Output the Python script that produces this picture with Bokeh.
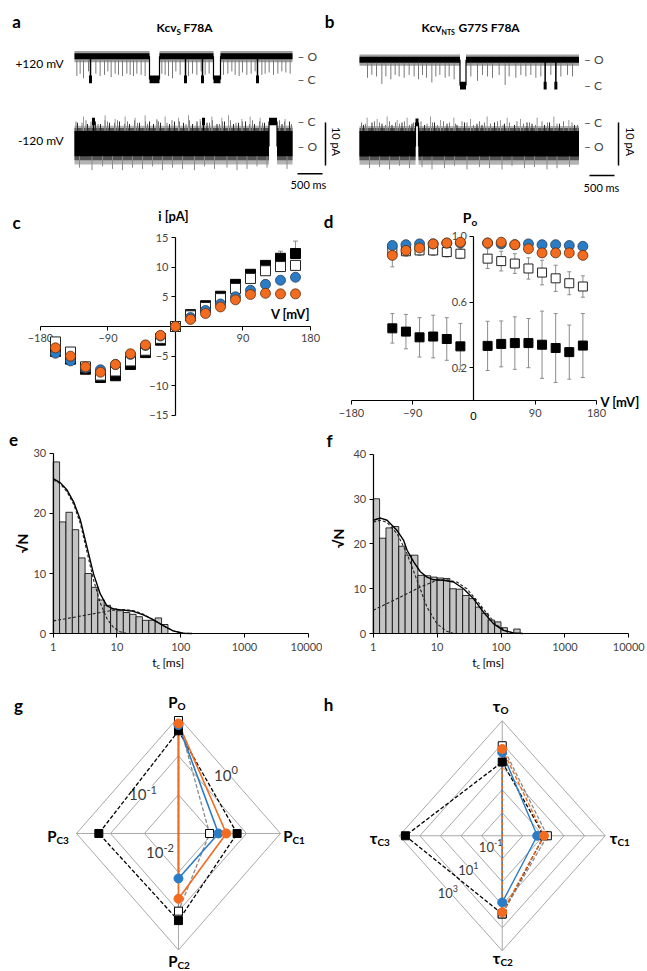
import math
from bokeh.plotting import figure
from bokeh.layouts import column, row
from bokeh.models import (Label, Range1d, FixedTicker, LinearAxis, LogAxis,
                          ColumnDataSource, Whisker, TeeHead,
                          PrintfTickFormatter, NumeralTickFormatter)
from bokeh.embed import file_html
from bokeh.resources import INLINE

FONT = "Lato"
BLUE = "#2b7cc6"
ORANGE = "#f26b1f"
GRID = "#a8a8a8"
ERR = "#8c8c8c"

# ===================== DATA =====================
# --- a / b : single-channel traces (ms, pA) ---
TRACE_DUR_A = 4360
TRACE_DUR_B = 4390
A_POS_AMP = 5.4
A_NEG_AMP = -5.8
B_POS_AMP = 6.0
B_NEG_AMP = -5.6
A_POS_LONG = [(1500, 1700), (2780, 2920)]
A_POS_FULL = [320, 2220, 2560, 3660]
A_POS_SPIKE_T = [47, 113, 180, 280, 427, 513, 600, 667, 733, 813, 880, 960, 1047, 1113, 1180, 1247,
                 1333, 1413, 1747, 1813, 1880, 1960, 2027, 2113, 2280, 2360, 2447, 2533, 2613, 2693,
                 2980, 3067, 3147, 3213, 3293, 3360, 3447, 3533, 3613, 3747, 3813, 3893, 3980, 4067,
                 4147, 4227, 4313]
A_POS_SPIKE_D = [0.85, 0.75, 0.95, 0.65, 0.75, 0.85, 0.8, 0.65, 0.9, 0.75, 0.8, 0.85, 0.75, 0.8, 0.85,
                 0.75, 0.8, 0.85, 0.75, 0.8, 0.85, 0.95, 0.65, 0.8, 0.85, 0.75, 0.8, 0.65, 0.8, 0.75,
                 0.8, 0.75, 0.65, 0.8, 0.85, 0.7, 0.8, 0.75, 0.65, 0.8, 0.75, 0.7, 0.8, 0.75, 0.65,
                 0.7, 0.75]
A_NEG_LONG = [(3890, 4050)]
A_NEG_FULL = [380, 2580]
A_NEG_SPIKE_T = [180, 613, 813, 1013, 1213, 1413, 1647, 1813, 2080, 2280, 2513, 2747, 2947, 3080,
                 3347, 3513, 3713, 4213]
A_NEG_SPIKE_D = [1.2, 1.25, 1.1, 1.2, 1.15, 1.25, 1.1, 1.2, 1.15, 1.25, 1.1, 1.2, 1.15, 1.25, 1.1,
                 1.2, 1.15, 1.1]
A_NEG_DARK_T = [60, 260, 420, 520, 700, 900, 1100, 1300, 1500, 1580, 1720, 1900, 2000, 2180, 2360,
                2450, 2650, 2850, 3000, 3180, 3280, 3420, 3600, 3800, 4150, 4300]
A_NEG_DARK_D = [0.95, 0.9, 1.0, 0.9, 0.95, 1.0, 0.9, 0.95, 1.0, 0.9, 0.95, 0.9, 1.0, 0.95, 0.9,
                1.0, 0.95, 0.9, 1.0, 0.9, 0.95, 1.0, 0.9, 0.95, 0.9, 1.0]
A_NEG_MID_T = [30, 150, 230, 330, 470, 610, 660, 800, 860, 1000, 1060, 1200, 1260, 1420, 1460, 1650,
               1680, 1850, 1950, 2100, 2230, 2300, 2520, 2700, 2760, 2900, 2960, 3120, 3230, 3360,
               3500, 3560, 3700, 3760, 4100, 4200, 4340]
A_NEG_LOW_T = [100, 350, 560, 760, 960, 1160, 1360, 1560, 1760, 1960, 2160, 2400, 2600, 2800, 3050,
               3250, 3450, 3650, 3850, 4250]
A_NEG_LOW_D = [-0.85, -0.95, -0.8, -0.9, -0.95, -0.85, -0.9, -0.8, -0.95, -0.85, -0.9, -0.95, -0.8,
               -0.9, -0.85, -0.95, -0.9, -0.8, -0.85, -0.9]
B_POS_LONG = [(2010, 2130)]
B_POS_FULL = [3713, 3927]
B_POS_SPIKE_T = [160, 247, 340, 447, 527, 627, 713, 793, 893, 993, 1093, 1180, 1260, 1340, 1447, 1527,
                 1607, 1713, 1793, 1893, 2227, 2360, 2460, 2560, 2660, 2793, 2913, 2993, 3127, 3227,
                 3327, 3427, 3527, 3627, 3827, 4027, 4160, 4260]
B_POS_SPIKE_D = [0.7, 0.59, 0.65, 0.94, 0.65, 0.76, 0.59, 0.65, 0.7, 0.59, 0.65, 0.76, 0.59, 0.7, 0.88,
                 0.65, 0.59, 0.7, 0.65, 0.76, 0.65, 0.82, 0.59, 0.65, 0.7, 0.59, 0.98, 0.65, 0.7, 0.59,
                 0.65, 0.59, 0.7, 0.65, 0.59, 0.65, 0.59, 0.65]
B_NEG_LONG = [(1120, 1180)]
B_NEG_FULL = []
B_NEG_SPIKE_T = [153, 353, 553, 753, 953, 1420, 1620, 1887, 2220, 2553, 2820, 2953, 3220, 3553, 3887, 4187]
B_NEG_SPIKE_D = [1.2, 1.15, 1.25, 1.1, 1.2, 1.25, 1.1, 1.2, 1.15, 1.25, 1.1, 1.2, 1.15, 1.2, 1.25, 1.1]
B_NEG_DARK_T = [80, 250, 450, 650, 850, 1050, 1300, 1500, 1750, 1950, 2100, 2350, 2450, 2700, 2900,
                3100, 3350, 3450, 3700, 3800, 4000, 4300]
B_NEG_DARK_D = [0.9, 1.0, 0.95, 0.9, 1.0, 0.95, 0.9, 1.0, 0.95, 0.9, 1.0, 0.95, 0.9, 1.0, 0.95, 0.9,
                1.0, 0.95, 0.9, 1.0, 0.95, 0.9]
B_NEG_MID_T = [40, 120, 300, 400, 520, 600, 720, 800, 900, 1000, 1080, 1230, 1350, 1460, 1560, 1680,
               1800, 1920, 2050, 2150, 2280, 2400, 2500, 2620, 2760, 2870, 3000, 3150, 3280, 3400,
               3520, 3650, 3760, 3950, 4080, 4250, 4360]
B_NEG_LOW_T = [200, 400, 600, 800, 1000, 1250, 1450, 1700, 1900, 2150, 2400, 2600, 2850, 3050, 3300,
               3500, 3750, 3950, 4200]
B_NEG_LOW_D = [-0.9, -0.85, -0.95, -0.8, -0.9, -0.85, -0.95, -0.9, -0.8, -0.95, -0.85, -0.9, -0.95,
               -0.8, -0.9, -0.85, -0.95, -0.9, -0.85]
NEG_MID_D = [1.0, 0.95, 1.05, 1.0, 0.9, 1.05, 1.0, 0.95, 1.05, 0.9, 1.0, 1.05, 0.95, 1.0, 0.9, 1.05,
             1.0, 0.95, 1.05, 1.0, 0.9, 1.05, 1.0, 0.95, 1.05, 0.9, 1.0, 1.05, 0.95, 1.0, 0.9, 1.05,
             1.0, 0.95, 1.05, 1.0, 0.9]
POS_BANDS = [((-1.4, 1.2), "#a0a0a0"), ((-0.7, 0.7), "black")]
NEG_BANDS = [((-4.2, 4.8), "#b4b4b4"), ((-3.2, 4.3), "#555555"), ((-2.3, 3.6), "black")]
SCALE_T = 500    # ms
SCALE_I = 10     # pA

# --- c : I/V ---
IV_V = [-160, -140, -120, -100, -80, -60, -40, -20, 0, 20, 40, 60, 80, 100, 120, 140, 160]
IV_BLACK = [-4.2, -5.5, -7.2, -8.6, -8.3, -6.4, -4.4, -2.3, 0, 2.0, 3.5, 5.1, 7.1, 8.8, 10.3, 11.5, 12.3]
IV_BLACK_ERR = [0.3, 0.3, 0.3, 0.3, 0.3, 0.3, 0.3, 0.2, 0, 0.2, 0.3, 0.3, 0.4, 0.4, 0.5, 1.2, 2.1]
IV_OPEN = [-2.6, -4.3, -6.8, -8.2, -7.5, -5.8, -4.0, -2.0, 0, 1.8, 3.2, 4.7, 6.4, 8.1, 9.4, 10.1, 10.3]
IV_BLUE = [-4.5, -5.8, -7.0, -7.3, -6.4, -4.7, -3.2, -1.6, 0, 1.5, 2.7, 3.8, 5.0, 6.1, 7.1, 7.8, 8.3]
IV_ORANGE = [-3.6, -5.0, -6.8, -7.7, -6.4, -4.6, -3.1, -1.5, 0, 1.2, 2.2, 3.3, 4.5, 5.4, 5.6, 5.5, 5.5]

# --- d : open probability ---
PO_V = [-120, -100, -80, -60, -40, -20, 20, 40, 60, 80, 100, 120, 140, 160]
PO_BLACK = [0.44, 0.42, 0.385, 0.39, 0.375, 0.33, 0.333, 0.345, 0.35, 0.35, 0.34, 0.32, 0.295, 0.335]
PO_BLACK_ERR = [0.09, 0.105, 0.12, 0.13, 0.13, 0.14, 0.15, 0.14, 0.16, 0.15, 0.205, 0.21, 0.165, 0.195]
PO_OPEN = [0.915, 0.91, 0.915, 0.915, 0.905, 0.895, 0.865, 0.85, 0.835, 0.805, 0.78, 0.745, 0.715, 0.695]
PO_OPEN_ERR = [0.03, 0.03, 0.03, 0.03, 0.03, 0.03, 0.06, 0.06, 0.06, 0.065, 0.075, 0.08, 0.07, 0.065]
PO_BLUE = [0.945, 0.95, 0.955, 0.955, 0.96, 0.96, 0.96, 0.955, 0.95, 0.955, 0.95, 0.95, 0.945, 0.94]
PO_ORANGE = [0.885, 0.915, 0.93, 0.955, 0.96, 0.965, 0.96, 0.965, 0.95, 0.925, 0.9, 0.9, 0.9, 0.885]
PO_ORANGE_ERR = [0.07, 0.02, 0.02, 0.01, 0.01, 0.01, 0.01, 0.01, 0.01, 0.02, 0.02, 0.02, 0.02, 0.02]

# --- e / f : closed-time histograms (sqrt N, log bins 10/decade from 1 ms) ---
BINS_PER_DECADE = 10
E_HIST = [28.6, 18.6, 20.2, 17.3, 12.6, 10.0, 7.7, 5.6, 4.7, 4.1, 3.8, 3.5, 3.2, 2.8, 2.2, 2.2, 2.6, 1.5]
F_HIST = [30.1, 21.3, 23.6, 23.9, 19.5, 17.5, 17.5, 13.0, 12.9, 12.6, 12.4, 12.3, 10.0, 9.9, 8.5, 7.8,
          5.9, 4.5, 3.0, 2.6, 1.3, 0.0, 1.0]
E_SUM_T = [1.0, 1.3, 1.65, 2.1, 2.67, 3.39, 4.3, 5.47, 6.95, 8.82, 12.6, 18.1, 25.9, 37.0, 53.1, 76.0, 109, 150]
E_SUM = [25.8, 25.1, 23.9, 21.9, 18.9, 14.4, 9.9, 6.6, 4.6, 4.1, 3.9, 3.7, 3.1, 2.3, 1.3, 0.45, 0.05, 0.0]
E_FAST_T = [1.0, 1.3, 1.65, 2.1, 2.67, 3.39, 4.3, 5.47, 6.95, 8.82, 11.2, 14.0]
E_FAST = [25.6, 24.9, 23.6, 21.5, 18.3, 13.6, 8.9, 5.1, 2.5, 1.0, 0.3, 0.05]
E_SLOW_T = [1.0, 1.65, 2.67, 4.3, 6.95, 10.0, 14.0, 20.0, 26.0, 37.0, 53.0, 76.0, 109, 150]
E_SLOW = [2.1, 2.5, 2.9, 3.3, 3.7, 3.95, 4.0, 3.7, 3.2, 2.3, 1.3, 0.45, 0.05, 0.0]
F_SUM_T = [1.0, 1.3, 1.65, 2.37, 3.0, 3.39, 4.3, 5.47, 6.95, 8.82, 12.6, 18.1, 25.9, 37.0, 53.0, 76.0, 109, 155, 220]
F_SUM = [25.3, 25.8, 25.3, 23.0, 20.8, 18.6, 16.0, 13.8, 12.6, 12.0, 11.9, 11.5, 10.0, 7.8, 4.8, 2.2, 0.7, 0.15, 0.0]
F_FAST_T = [1.0, 1.3, 1.65, 2.37, 3.39, 4.85, 6.95, 9.9, 14.2, 18.1]
F_FAST = [24.9, 25.3, 24.8, 22.3, 17.8, 11.9, 5.9, 2.2, 0.5, 0.0]
F_SLOW_T = [1.0, 1.65, 3.0, 5.47, 9.9, 14.2, 20.4, 29.2, 41.8, 59.9, 85.8, 123, 175]
F_SLOW = [5.2, 6.7, 8.5, 10.4, 11.9, 12.0, 11.5, 10.0, 7.4, 4.5, 1.9, 0.5, 0.0]
HIST_TICKS = [1, 10, 100, 1000, 10000]

# --- g : state probabilities (order: O, C1, C2, C3) ---
G_MIN = 1e-3
G_RINGS = [1e-2, 1e-1, 1e0]
G_BLACK = [0.44, 0.053, 0.175, 0.22]
G_OPEN = [0.81, 0.0082, 0.10, None]
G_BLUE = [0.62, 0.015, 0.0144, None]
G_ORANGE = [0.68, 0.0255, 0.048, None]

# --- h : state lifetimes, ms (order: O, C1, C2, C3) ---
H_MIN = 1e-2
H_RINGS = [1e-1, 1e0, 1e1, 1e2, 1e3]
H_BLACK = [16, 1.07, 25, 500]
H_OPEN = [82, 1.55, 25, None]
H_BLUE = [42, 0.5, 7.9, None]
H_ORANGE = [59, 1.07, 21, None]


# ===================== HELPERS =====================
def mkfig(w, h, xr, yr, xtype="linear"):
    p = figure(width=w, height=h, x_range=Range1d(*xr), y_range=Range1d(*yr),
               x_axis_type=xtype, toolbar_location=None, output_backend="svg",
               x_axis_location=None, y_axis_location=None, title=None,
               min_border=0, outline_line_color=None)
    p.min_border_left = p.min_border_right = p.min_border_top = p.min_border_bottom = 0
    for g in p.grid:
        g.visible = False
    return p


def put(p, ox, ob, x, y, text, size=11, bold=False, align="center", baseline="middle",
        angle=0.0, color="black"):
    p.add_layout(Label(x=x - ox, y=ob - y, x_units="screen", y_units="screen", text=text,
                       text_font=FONT, text_font_size=f"{size}px",
                       text_font_style="bold" if bold else "normal",
                       text_align=align, text_baseline=baseline, angle=angle,
                       text_color=color))


def sub_put(p, ox, ob, x, y, main, sub, size, subsize, bold=True, dy=4):
    put(p, ox, ob, x, y, main, size, bold, align="right")
    put(p, ox, ob, x, y + dy, sub, subsize, bold, align="left")


def axis(p, side, loc, ticks, bounds, log=False, fmt=None, tick_in=0, tick_out=4,
         size="11px", standoff=3, level="guide"):
    A = LogAxis if log else LinearAxis
    ax = A(fixed_location=loc, ticker=FixedTicker(ticks=ticks), bounds=bounds,
           axis_line_color="black", axis_line_width=1.2,
           major_tick_line_color="black", major_tick_in=tick_in, major_tick_out=tick_out,
           minor_tick_line_color=None, major_label_text_font=FONT,
           major_label_text_font_size=size, major_label_standoff=standoff, level=level)
    if fmt is not None:
        ax.formatter = fmt
    p.add_layout(ax, side)


def draw_trace(p, t0, base, amp, dur, long_cl, full_cl, spike_sets, bands):
    O = base + amp
    C = base
    cuts = [0]
    for a, b in long_cl:
        cuts += [a, b]
    cuts.append(dur)
    L = [t0 + cuts[i] for i in range(0, len(cuts), 2)]
    R = [t0 + cuts[i + 1] for i in range(0, len(cuts), 2)]
    for (lo, hi), col in bands:
        p.quad(left=L, right=R, bottom=O + lo, top=O + hi, fill_color=col, line_color=None)
    core_lo, core_hi = bands[-1][0]
    for sp_t, sp_d, col in spike_sets:
        xs = [t0 + t for t in sp_t]
        ends = [O - d * amp for d in sp_d]
        starts = [O + (core_hi if e > O else core_lo) for e in ends]
        p.segment(x0=xs, y0=starts, x1=xs, y1=ends, line_color=col, line_width=1)
    if long_cl:
        p.quad(left=[t0 + a for a, b in long_cl], right=[t0 + b for a, b in long_cl],
               bottom=C - 0.9, top=C + 0.9, fill_color="black", line_color=None)
        ex = [t0 + v for iv in long_cl for v in iv]
        p.segment(x0=ex, y0=[O] * len(ex), x1=ex, y1=[C] * len(ex), line_color="black", line_width=1.2)
    if full_cl:
        ex = [t0 + t for t in full_cl]
        p.segment(x0=ex, y0=[O] * len(ex), x1=ex, y1=[C] * len(ex), line_color="black", line_width=1.5)
        p.quad(left=[x - 30 for x in ex], right=[x + 30 for x in ex], bottom=C - 0.9, top=C + 0.9,
               fill_color="black", line_color=None)


# ===================== ROW 1 : a, b =====================
# figure spans image x 0..645, y 0..195 ; 20 ms/px, 4.3 px/pA
pab = mkfig(645, 195, (-1480, 11420), (-26.98, 18.37))
A_T0, B_T0 = 0, 5700
A_POS_BASE, A_NEG_BASE = 0.0, -9.77
B_POS_BASE, B_NEG_BASE = -1.4, -10.0

draw_trace(pab, A_T0, A_POS_BASE, A_POS_AMP, TRACE_DUR_A, A_POS_LONG, A_POS_FULL,
           [(A_POS_SPIKE_T, A_POS_SPIKE_D, "#7a7a7a")], POS_BANDS)
draw_trace(pab, A_T0, A_NEG_BASE, A_NEG_AMP, TRACE_DUR_A, A_NEG_LONG, A_NEG_FULL,
           [(A_NEG_SPIKE_T, A_NEG_SPIKE_D, "#9a9a9a"), (A_NEG_MID_T, NEG_MID_D, "#7a7a7a"),
            (A_NEG_DARK_T, A_NEG_DARK_D, "#2a2a2a"), (A_NEG_LOW_T, A_NEG_LOW_D, "#8a8a8a")], NEG_BANDS)
draw_trace(pab, B_T0, B_POS_BASE, B_POS_AMP, TRACE_DUR_B, B_POS_LONG, B_POS_FULL,
           [(B_POS_SPIKE_T, B_POS_SPIKE_D, "#7a7a7a")], POS_BANDS)
draw_trace(pab, B_T0, B_NEG_BASE, B_NEG_AMP, TRACE_DUR_B, B_NEG_LONG, B_NEG_FULL,
           [(B_NEG_SPIKE_T, B_NEG_SPIKE_D, "#9a9a9a"), (B_NEG_MID_T, NEG_MID_D, "#7a7a7a"),
            (B_NEG_DARK_T, B_NEG_DARK_D, "#2a2a2a"), (B_NEG_LOW_T, B_NEG_LOW_D, "#8a8a8a")], NEG_BANDS)

# level marks "– O" / "– C"
for t0, dur, base, amp in [(A_T0, TRACE_DUR_A, A_POS_BASE, A_POS_AMP),
                           (A_T0, TRACE_DUR_A, A_NEG_BASE, A_NEG_AMP),
                           (B_T0, TRACE_DUR_B, B_POS_BASE, B_POS_AMP),
                           (B_T0, TRACE_DUR_B, B_NEG_BASE, B_NEG_AMP)]:
    for lvl, name in [(base + amp, "O"), (base, "C")]:
        pab.add_layout(Label(x=t0 + dur + 100, y=lvl, text="\u2013 " + name, text_font=FONT,
                             text_font_size="12px", text_align="left", text_baseline="middle"))

# scale bars
for tx, ty, vx, vy in [(4460, -21.9, 5020, -10.0), (10300, -22.3, 10880, -10.0)]:
    pab.segment(x0=[tx], y0=[ty], x1=[tx + SCALE_T], y1=[ty], line_color="black", line_width=1.5)
    pab.segment(x0=[vx], y0=[vy], x1=[vx], y1=[vy - SCALE_I], line_color="black", line_width=1.5)

OX, OB = 0, 195
put(pab, OX, OB, 16, 21, "a", 17, True)
put(pab, OX, OB, 329, 21, "b", 17, True)
put(pab, OX, OB, 176, 27, "Kcv", 12, True, align="right")
put(pab, OX, OB, 176, 31, "S", 8, True, align="left")
put(pab, OX, OB, 183, 27, "F78A", 12, True, align="left")
put(pab, OX, OB, 441, 27, "Kcv", 12, True, align="right")
put(pab, OX, OB, 441, 31, "NTS", 7, True, align="left")
put(pab, OX, OB, 458, 27, "G77S F78A", 12, True, align="left")
put(pab, OX, OB, 63, 63, "+120 mV", 12, align="right")
put(pab, OX, OB, 63, 140, "-120 mV", 12, align="right")
put(pab, OX, OB, 336, 141, "10 pA", 11, angle=-math.pi / 2)
put(pab, OX, OB, 630, 141, "10 pA", 11, angle=-math.pi / 2)
put(pab, OX, OB, 308, 184, "500 ms", 11)
put(pab, OX, OB, 601, 187, "500 ms", 11)

# ===================== ROW 2 : c, d =====================
pc = mkfig(322, 235, (-233.33, 196.0), (-17.53, 22.08))
axis(pc, "below", 0, [-180, -90, 90, 180], (-180, 180), level="underlay", standoff=4)
axis(pc, "left", 0, [-15, -10, -5, 5, 10, 15], (-15, 15), level="underlay")
cerr = ColumnDataSource(dict(x=IV_V, lo=IV_BLACK, hi=[b + e for b, e in zip(IV_BLACK, IV_BLACK_ERR)]))
pc.add_layout(Whisker(source=cerr, base="x", lower="lo", upper="hi", line_color=ERR,
                      upper_head=TeeHead(size=5, line_color=ERR), lower_head=None))
pc.scatter(IV_V, IV_BLACK, marker="square", size=10, fill_color="black", line_color="black")
pc.scatter(IV_V, IV_OPEN, marker="square", size=10, fill_color="white", line_color="#222222", line_width=1)
pc.scatter(IV_V, IV_BLUE, marker="circle", size=10, fill_color=BLUE, line_color="#2a3f55", line_width=0.8)
pc.scatter(IV_V, IV_ORANGE, marker="circle", size=10, fill_color=ORANGE, line_color="#5a3010", line_width=0.8)
OX, OB = 0, 430
put(pc, OX, OB, 16, 222, "c", 17, True)
put(pc, OX, OB, 173, 215, "i [pA]", 13, True)
put(pc, OX, OB, 290, 313, "V [mV]", 13, True)

pd = mkfig(323, 235, (-222.6, 252.0), (-0.183, 1.25))
axis(pd, "below", 0, [-180, -90, 90, 180], (-180, 180), level="underlay", standoff=5)
axis(pd, "left", 0, [0.2, 0.6, 1.0], (0, 1.0), fmt=PrintfTickFormatter(format="%.1f"), level="underlay")
for vals, errs in [(PO_BLACK, PO_BLACK_ERR), (PO_OPEN, PO_OPEN_ERR), (PO_ORANGE, PO_ORANGE_ERR)]:
    s = ColumnDataSource(dict(x=PO_V, lo=[v - e for v, e in zip(vals, errs)],
                              hi=[v + e for v, e in zip(vals, errs)]))
    pd.add_layout(Whisker(source=s, base="x", lower="lo", upper="hi", line_color=ERR,
                          upper_head=TeeHead(size=4, line_color=ERR),
                          lower_head=TeeHead(size=4, line_color=ERR)))
pd.scatter(PO_V, PO_BLACK, marker="square", size=9, fill_color="black", line_color="black")
pd.scatter(PO_V, PO_OPEN, marker="square", size=9, fill_color="white", line_color="#222222", line_width=1)
pd.scatter(PO_V, PO_BLUE, marker="circle", size=10, fill_color=BLUE, line_color="#2a3f55", line_width=0.8)
pd.scatter(PO_V, PO_ORANGE, marker="circle", size=10, fill_color=ORANGE, line_color="#5a3010", line_width=0.8)
OX, OB = 322, 430
put(pd, OX, OB, 328, 221, "d", 17, True)
put(pd, OX, OB, 473, 415, "0", 11)
sub_put(pd, OX, OB, 471, 217, "P", "o", 14, 10, True)
put(pd, OX, OB, 600, 401, "V [mV]", 13, True, align="left")

# ===================== ROW 3 : e, f =====================
def hist_panel(p, vals, sum_t, sum_v, fast_t, fast_v, slow_t, slow_v, ymax, yticks):
    edges = [10 ** (k / BINS_PER_DECADE) for k in range(len(vals) + 1)]
    p.quad(left=edges[:-1], right=edges[1:], bottom=0, top=vals,
           fill_color="#c4c4c4", line_color="black", line_width=0.8)
    p.line(fast_t, fast_v, line_color="#222222", line_width=1.1, line_dash="3 2")
    p.line(slow_t, slow_v, line_color="#222222", line_width=1.1, line_dash="3 2")
    p.line(sum_t, sum_v, line_color="black", line_width=1.4)
    axis(p, "below", 0, HIST_TICKS, (1, 10000), log=True,
         fmt=NumeralTickFormatter(format="0"), standoff=5)
    axis(p, "left", 1, yticks, (0, ymax))


pe = mkfig(322, 250, (10 ** -0.8267, 10 ** 4.224), (-7.83, 33.83), "log")
hist_panel(pe, E_HIST, E_SUM_T, E_SUM, E_FAST_T, E_FAST, E_SLOW_T, E_SLOW, 30, [0, 10, 20, 30])
OX, OB = 0, 680
put(pe, OX, OB, 13, 439, "e", 17, True)
put(pe, OX, OB, 22, 543, "\u221aN", 14, True, angle=math.pi / 2)
put(pe, OX, OB, 156, 662, "t", 12, align="right")
put(pe, OX, OB, 156, 665, "c", 8, align="left")
put(pe, OX, OB, 162, 662, "[ms]", 12, align="left")

pf = mkfig(323, 250, (10 ** -0.7934, 10 ** 4.2613), (-10.5, 45.36), "log")
hist_panel(pf, F_HIST, F_SUM_T, F_SUM, F_FAST_T, F_FAST, F_SLOW_T, F_SLOW, 40, [0, 10, 20, 30, 40])
OX, OB = 322, 680
put(pf, OX, OB, 329, 440, "f", 17, True)
put(pf, OX, OB, 338, 538, "\u221aN", 14, True, angle=math.pi / 2)
put(pf, OX, OB, 476, 662, "t", 12, align="right")
put(pf, OX, OB, 476, 665, "c", 8, align="left")
put(pf, OX, OB, 482, 662, "[ms]", 12, align="left")

# ===================== ROW 4 : g, h (radar) =====================
DIRS = [(0, 1), (1, 0), (0, -1), (-1, 0)]


def radar_grid(p, rings, rfun, labels):
    rmax = rfun(rings[-1])
    for lv in rings:
        r = rfun(lv)
        p.line([0, r, 0, -r, 0], [r, 0, -r, 0, r], line_color=GRID, line_width=1, level="image")
    p.segment(x0=[0, -rmax], y0=[-rmax, 0], x1=[0, rmax], y1=[rmax, 0],
              line_color=GRID, line_width=1, level="image")
    for lv, (sx, sy), base, sup, size in labels:
        r = rfun(lv)
        x, y = sx * r / 2, sy * r / 2
        p.add_layout(Label(x=x, y=y, text=base, text_align="right", text_baseline="middle",
                           x_offset=2, text_font=FONT, text_font_size=f"{size}px",
                           text_color="#3a3a3a", background_fill_color="white", level="underlay"))
        p.add_layout(Label(x=x, y=y, text=sup, text_align="left", text_baseline="middle",
                           x_offset=2, y_offset=5, text_font=FONT, text_font_size=f"{size - 4}px",
                           text_color="#3a3a3a", background_fill_color="white", level="underlay"))


def radar_series(p, vals, rfun, color, dash, lw):
    rs = [rfun(v) if v is not None else 0.0 for v in vals]
    xs = [d[0] * r for d, r in zip(DIRS, rs)]
    ys = [d[1] * r for d, r in zip(DIRS, rs)]
    p.line(xs + xs[:1], ys + ys[:1], line_color=color, line_width=lw, line_dash=dash)
    mx = [x for x, v in zip(xs, vals) if v is not None]
    my = [y for y, v in zip(ys, vals) if v is not None]
    return mx, my


def rg(v):
    return (math.log10(v) - math.log10(G_MIN)) / (math.log10(G_RINGS[-1]) - math.log10(G_MIN))


def rh(v):
    return (math.log10(v) - math.log10(H_MIN)) / (math.log10(H_RINGS[-1]) - math.log10(H_MIN))


def radar_panel(p, specs, rfun):
    marks = []
    for vals, col, dash, lw, mk, fill, sz in specs:
        marks.append((radar_series(p, vals, rfun, col, dash, lw), mk, fill, sz, col))
    for (mx, my), mk, fill, sz, col in marks:
        p.scatter(mx, my, marker=mk, size=sz, fill_color=fill,
                  line_color="black" if mk == "square" else col, line_width=1)


pg = mkfig(322, 289, (-1.745, 1.412), (-1.1674, 1.313))
radar_grid(pg, G_RINGS, rg, [(1e0, (1, 1), "10", "0", 15), (1e-1, (-1, 1), "10", "-1", 15),
                              (1e-2, (-1, -1), "10", "-2", 15)])
radar_panel(pg, [(G_BLACK, "black", "4 2", 1.3, "square", "black", 8),
                 (G_OPEN, "#8a8a8a", "4 2", 1.3, "square", "white", 8),
                 (G_BLUE, BLUE, "solid", 1.6, "circle", BLUE, 9),
                 (G_ORANGE, ORANGE, "solid", 1.6, "circle", ORANGE, 9)], rg)
OX, OB = 0, 969
put(pg, OX, OB, 18, 705, "g", 17, True)
sub_put(pg, OX, OB, 177, 701, "P", "O", 15, 10, True)
sub_put(pg, OX, OB, 292, 835, "P", "C1", 15, 10, True)
sub_put(pg, OX, OB, 56, 835, "P", "C3", 15, 10, True)
sub_put(pg, OX, OB, 177, 960, "P", "C2", 15, 10, True)

ph = mkfig(323, 289, (-1.745, 1.391), (-1.1626, 1.350))
radar_grid(ph, H_RINGS, rh, [(1e-1, (-1, -1), "10", "-1", 13), (1e1, (-1, -1), "10", "1", 13),
                              (1e3, (-1, -1), "10", "3", 13)])
radar_panel(ph, [(H_BLACK, "black", "4 2", 1.3, "square", "black", 8),
                 (H_OPEN, "#8a8a8a", "4 2", 1.3, "square", "white", 8),
                 (H_BLUE, BLUE, "solid", 1.4, "circle", BLUE, 9),
                 (H_ORANGE, ORANGE, "4 2", 1.4, "circle", ORANGE, 9)], rh)
OX, OB = 322, 969
put(ph, OX, OB, 328, 704, "h", 17, True)
sub_put(ph, OX, OB, 500, 705, "\u03c4", "O", 16, 10, True)
sub_put(ph, OX, OB, 617, 837, "\u03c4", "C1", 16, 10, True)
sub_put(ph, OX, OB, 377, 837, "\u03c4", "C3", 16, 10, True)
sub_put(ph, OX, OB, 500, 957, "\u03c4", "C2", 16, 10, True)

layout = column(pab, row(pc, pd), row(pe, pf), row(pg, ph))
open("out.html", "w").write(file_html(layout, INLINE))
